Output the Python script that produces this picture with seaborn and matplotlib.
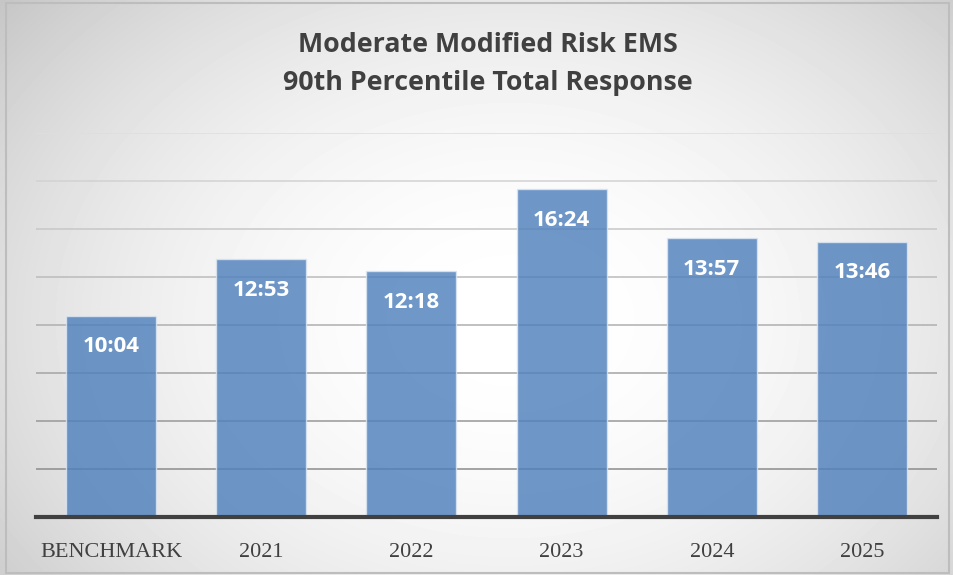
import numpy as np
import pandas as pd
import matplotlib.pyplot as plt
import seaborn as sns

# data
categories = ["BENCHMARK", "2021", "2022", "2023", "2024", "2025"]
labels = ["10:04", "12:53", "12:18", "16:24", "13:57", "13:46"]
minutes = [int(s.split(":")[0]) + int(s.split(":")[1]) / 60 for s in labels]

df = pd.DataFrame({"category": categories, "minutes": minutes})

sns.set_theme(style="white")
plt.rcParams["font.family"] = ["Open Sans", "DejaVu Sans"]

fig = plt.figure(figsize=(9.54, 5.75), dpi=100)

# radial gradient background, lightest near the lower middle
bg = fig.add_axes([0, 0, 1, 1], zorder=-10)
h, w = 575, 954
yy, xx = np.mgrid[0:h, 0:w]
r2 = ((xx - 510) / 560) ** 2 + ((yy - 320) / 420) ** 2
shade = np.clip(1 - 0.16 * r2, 0.74, 1)
bg.imshow(shade, cmap="gray", vmin=0, vmax=1, aspect="auto", extent=[0, 1, 0, 1])
bg.add_patch(plt.Rectangle((0.006, 0.004), 0.989, 0.99, fill=False, ec="#bdbdbd", lw=1.5,
                           transform=bg.transAxes))
bg.set_axis_off()

ax = fig.add_axes([0.0377, 0.1009, 0.9445, 0.6678])
ax.set_facecolor("none")
sns.barplot(data=df, x="category", y="minutes", color="#4f81bd", alpha=0.82,
            saturation=1, width=0.6, edgecolor="#dce6f2", linewidth=1, ax=ax, zorder=3)

ax.bar_label(ax.containers[0], labels=labels, label_type="edge", padding=-30,
             color="white", fontsize=16, fontweight="bold")

# gridlines fade from dark at the bottom to light at the top
ax.set_ylim(0, 19.2)
grid_levels = np.arange(2.4, 19.21, 2.4)
for i, lv in enumerate(grid_levels):
    t = i / (len(grid_levels) - 1)
    g = 0.55 + 0.32 * t
    ax.axhline(lv, color=(g, g, g), lw=1.1, zorder=1)

ax.set_yticks([])
ax.set_xlabel("")
ax.set_ylabel("")
ax.tick_params(axis="both", length=0)
for lbl in ax.get_xticklabels():
    lbl.set_fontfamily("Liberation Serif")
    lbl.set_fontsize(16)
    lbl.set_color("#404040")
ax.tick_params(axis="x", pad=19)
for side in ["top", "left", "right"]:
    ax.spines[side].set_visible(False)
ax.spines["bottom"].set_color("#404040")
ax.spines["bottom"].set_linewidth(3)
ax.spines["bottom"].set_zorder(5)
ax.set_xlim(-0.5, 5.5)

fig.text(0.511, 0.889, "Moderate Modified Risk EMS\n90th Percentile Total Response",
         ha="center", va="center", fontsize=19.3, fontweight="bold", color="#404040",
         linespacing=1.58)

fig.savefig("out.png", dpi=100)
